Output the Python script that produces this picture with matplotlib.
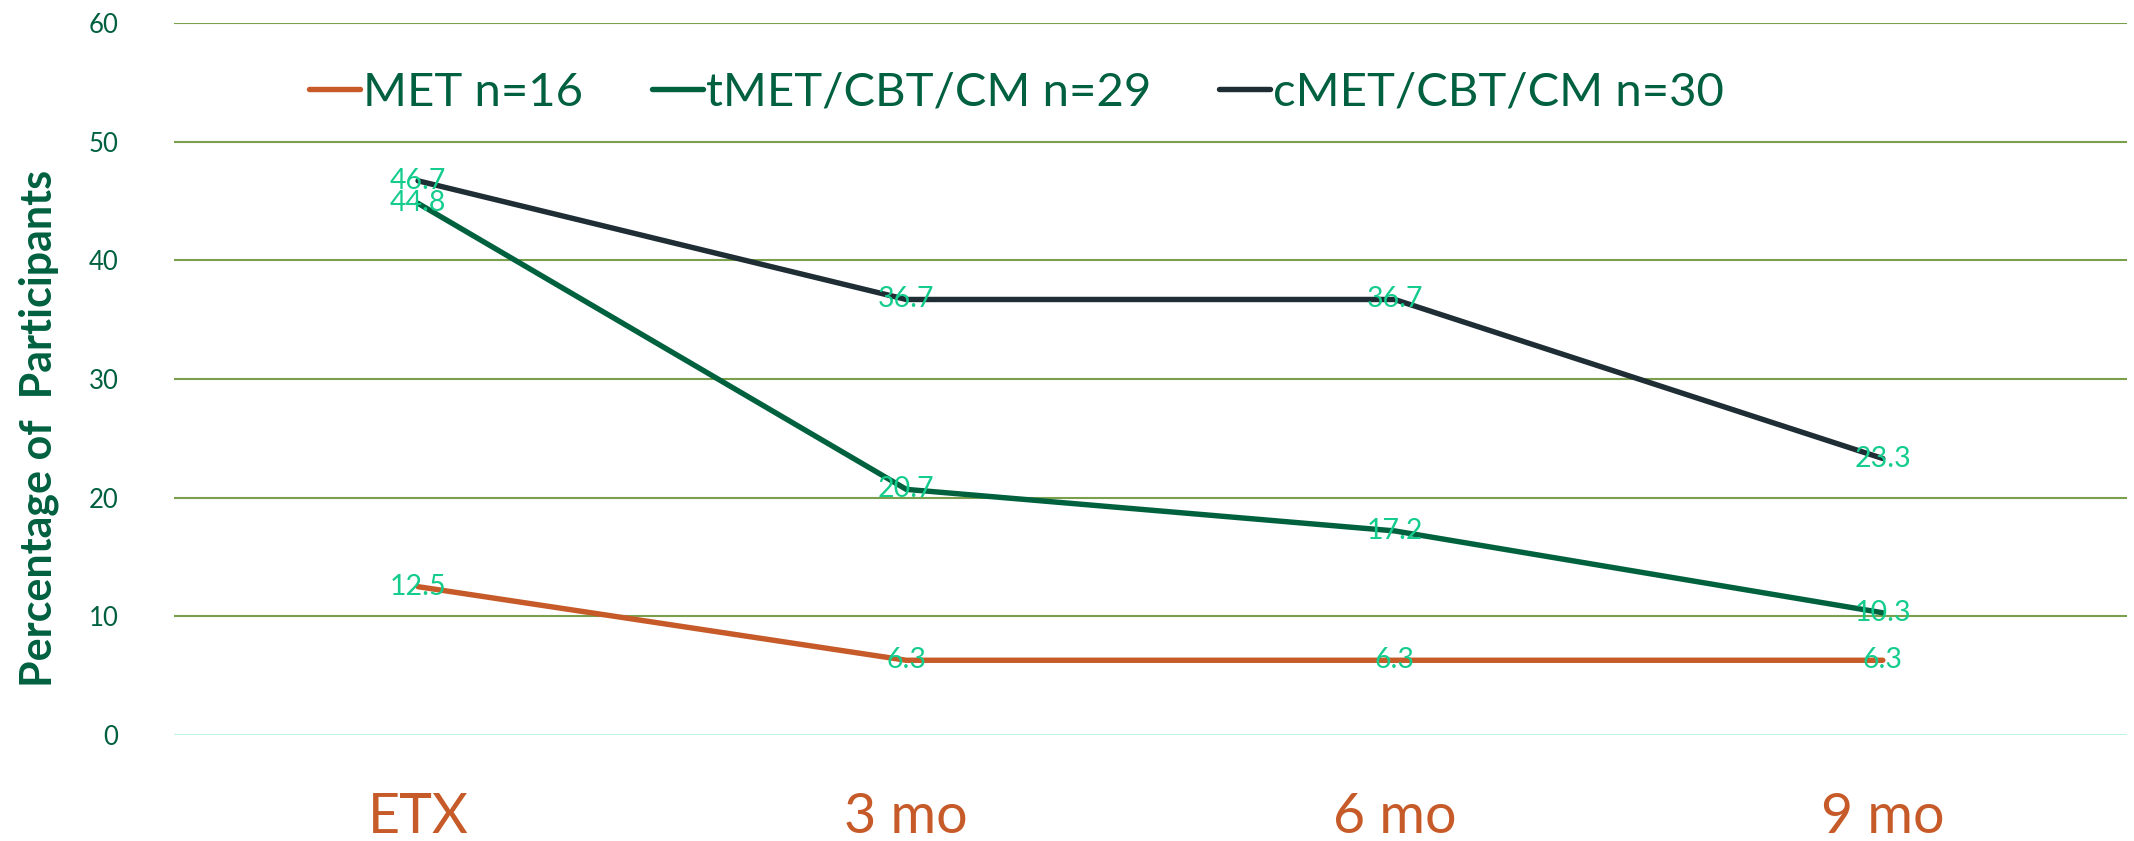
import matplotlib
matplotlib.use("Agg")
import matplotlib.pyplot as plt

# --- data ---
timepoints = ["ETX", "3 mo", "6 mo", "9 mo"]
met = [12.5, 6.3, 6.3, 6.3]
tmet = [44.8, 20.7, 17.2, 10.3]
cmet = [46.7, 36.7, 36.7, 23.3]
series_names = ["MET n=16", "tMET/CBT/CM n=29", "cMET/CBT/CM n=30"]
y_ticks = [0, 10, 20, 30, 40, 50, 60]

# --- colours ---
ORANGE = "#C65A28"
GREEN = "#00613F"
DARK = "#1F2D34"
LABEL_GREEN = "#14CC8C"
GRID = "#7AA04C"
ZERO_LINE = "#BFF5E4"
TEXT = "#00603F"

plt.rcParams["font.family"] = ["Lato", "DejaVu Sans"]

fig = plt.figure(figsize=(21.34, 8.41), dpi=100)
ax = fig.add_axes([0.0815, 0.126, 0.9152, 0.8467])

x = list(range(len(timepoints)))
lines = []
for values, color, name in [(met, ORANGE, series_names[0]),
                            (tmet, GREEN, series_names[1]),
                            (cmet, DARK, series_names[2])]:
    ln, = ax.plot(x, values, color=color, lw=3.9, label=name,
                  solid_capstyle="round", solid_joinstyle="round", zorder=3)
    lines.append(ln)
    for xi, v in zip(x, values):
        ax.text(xi, v, f"{v:.1f}", color=LABEL_GREEN, fontsize=20.5,
                ha="center", va="center", zorder=4)

# horizontal gridlines, the zero line in a pale mint
for t in y_ticks:
    ax.axhline(t, color=ZERO_LINE if t == 0 else GRID, lw=1.5, zorder=1)

ax.set_xlim(-0.5, 3.5)
ax.set_ylim(0, 60)
ax.set_yticks(y_ticks)
ax.set_xticks(x)
ax.set_xticklabels(timepoints)
ax.tick_params(axis="y", length=0, pad=40, labelsize=18.5, labelcolor=TEXT)
ax.tick_params(axis="x", length=0, pad=41, labelsize=40, labelcolor=ORANGE)
for s in ax.spines.values():
    s.set_visible(False)

ax.set_ylabel("Percentage of  Participants", fontsize=31, fontweight="bold",
              color=TEXT)
ax.yaxis.set_label_coords(-0.059, 0.43)

leg = fig.legend(handles=lines, loc="center left", bbox_to_anchor=(0.145, 0.89),
                 ncol=3, frameon=False, fontsize=34, handlelength=1.08,
                 handletextpad=0.06, columnspacing=1.45, borderpad=0,
                 borderaxespad=0)
for t in leg.get_texts():
    t.set_color(TEXT)

fig.savefig("out.png", dpi=100)
